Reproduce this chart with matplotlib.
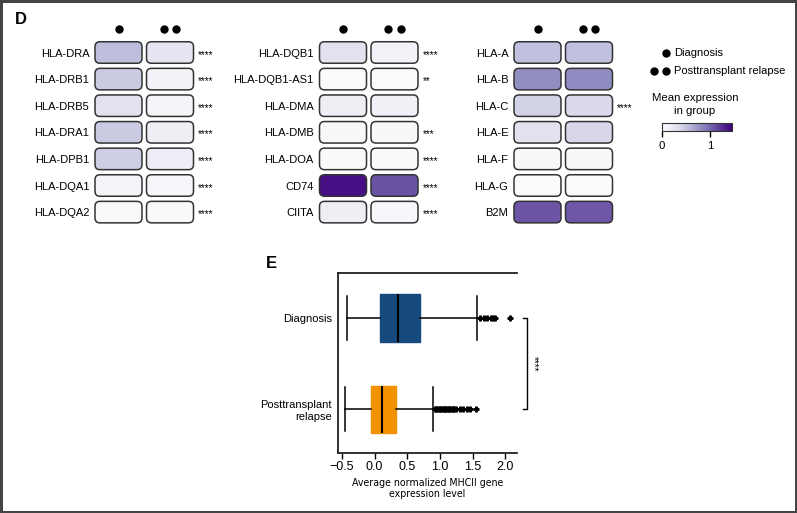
import matplotlib
matplotlib.use("Agg")
import matplotlib.pyplot as plt
import numpy as np
from matplotlib.patches import FancyBboxPatch
from matplotlib.colors import Normalize
from matplotlib.cm import ScalarMappable
from matplotlib import font_manager

plt.rcParams['font.family'] = ['Liberation Sans', 'DejaVu Sans']

# ---------------- data ----------------
groups = ["Diagnosis", "Posttransplant relapse"]

genes_p1 = ["HLA-DRA", "HLA-DRB1", "HLA-DRB5", "HLA-DRA1", "HLA-DPB1", "HLA-DQA1", "HLA-DQA2"]
diag_p1 = [0.54, 0.46, 0.29, 0.46, 0.44, 0.10, 0.04]
rel_p1 = [0.26, 0.12, 0.10, 0.17, 0.19, 0.07, 0.04]
sig_p1 = ["****", "****", "****", "****", "****", "****", "****"]

genes_p2 = ["HLA-DQB1", "HLA-DQB1-AS1", "HLA-DMA", "HLA-DMB", "HLA-DOA", "CD74", "CIITA"]
diag_p2 = [0.29, 0.02, 0.17, 0.06, 0.04, 1.38, 0.17]
rel_p2 = [0.12, 0.02, 0.15, 0.06, 0.03, 1.08, 0.07]
sig_p2 = ["****", "**", "", "***", "****", "****", "****"]

genes_p3 = ["HLA-A", "HLA-B", "HLA-C", "HLA-E", "HLA-F", "HLA-G", "B2M"]
diag_p3 = [0.52, 0.80, 0.41, 0.29, 0.06, 0.02, 1.07]
rel_p3 = [0.52, 0.81, 0.36, 0.38, 0.06, 0.02, 1.06]
sig_p3 = ["", "", "****", "", "", "", ""]

cbar_ticks = [0, 1]
vmax = 1.45

# boxplot summary
box_labels = ["Diagnosis", "Posttransplant\nrelapse"]
whislo = [-0.42, -0.45]
q1 = [0.09, -0.05]
med = [0.36, 0.12]
q3 = [0.70, 0.33]
whishi = [1.57, 0.90]
fliers_diag = [1.62, 1.67, 1.72, 1.78, 1.81, 1.84, 2.07]
fliers_rel = [0.92, 0.94, 0.96, 0.98, 1.00, 1.02, 1.04, 1.06, 1.08, 1.10, 1.12,
              1.14, 1.16, 1.18, 1.20, 1.22, 1.25, 1.31, 1.36, 1.41, 1.46, 1.55]
xticks_box = [-0.5, 0.0, 0.5, 1.0, 1.5, 2.0]
box_colors = ["#174a7c", "#f39200"]

# pick a condensed font for the x label if one is installed
_names = {(f.name, f.stretch) for f in font_manager.fontManager.ttflist}
_fam = {n for n, s in _names}
if "Liberation Sans Narrow" in _fam:
    narrow = dict(family=["Liberation Sans Narrow", "DejaVu Sans"], fontsize=8.6)
elif ("DejaVu Sans", "condensed") in _names or ("DejaVu Sans", "semi-condensed") in _names:
    narrow = dict(family=["DejaVu Sans"], stretch="condensed", fontsize=7.6)
else:
    narrow = dict(family=["Liberation Sans", "DejaVu Sans"], fontsize=7.5)

# ---------------- figure ----------------
W, H = 797, 513
fig = plt.figure(figsize=(W / 100, H / 100), dpi=100)
fig.patch.set_edgecolor("#444444")
fig.patch.set_linewidth(2.5)

def px_axes(x0, y0, x1, y1):
    return fig.add_axes([x0 / W, 1 - y1 / H, (x1 - x0) / W, (y1 - y0) / H])

cmap = plt.get_cmap("Purples")
norm = Normalize(0, vmax)

colpitch = 51.5
rowpitch = 26.6
row0 = 52.5
cell_w = 47 / colpitch
cell_h = 21.5 / rowpitch
rad = 5 / colpitch
panels = [
    (118.5, genes_p1, diag_p1, rel_p1, sig_p1),
    (343.0, genes_p2, diag_p2, rel_p2, sig_p2),
    (537.5, genes_p3, diag_p3, rel_p3, sig_p3),
]
for cx, genes, d, r, sig in panels:
    ax = px_axes(cx - colpitch / 2, row0 - rowpitch / 2,
                 cx + colpitch * 1.5, row0 + rowpitch * 6.5)
    ax.set_xlim(-0.5, 1.5)
    ax.set_ylim(6.5, -0.5)
    vals = np.array([d, r]).T
    for i in range(len(genes)):
        for j in range(2):
            p = FancyBboxPatch((j - cell_w / 2, i - cell_h / 2), cell_w, cell_h,
                               boxstyle=f"round,pad=0,rounding_size={rad}",
                               mutation_aspect=colpitch / rowpitch,
                               facecolor=cmap(norm(vals[i, j])),
                               edgecolor="#333333", linewidth=1.1)
            ax.add_patch(p)
        if sig[i]:
            ax.text(1.55, i + 0.08, sig[i], ha="left", va="center", fontsize=7.2)
    ax.set_yticks(range(len(genes)), genes, fontsize=8)
    ax.tick_params(axis="y", length=0, pad=2.5)
    ax.set_xticks([])
    for s in ax.spines.values():
        s.set_visible(False)
    # group dots
    yd = -0.88
    ax.plot([0], [yd], "o", color="black", ms=5, clip_on=False)
    ax.plot([1 - 0.117, 1 + 0.117], [yd, yd], "o", color="black", ms=5, clip_on=False)

# overlay axes in pixel coords for legend + panel letters
ov = fig.add_axes([0, 0, 1, 1])
ov.set_xlim(0, W)
ov.set_ylim(H, 0)
ov.axis("off")
ov.text(15, 19, "D", fontsize=12, fontweight="bold", va="center", ha="left")
ov.text(266, 264, "E", fontsize=12, fontweight="bold", va="center", ha="left")
ov.plot([666], [53], "o", color="black", ms=5)
ov.plot([654.5, 666], [71, 71], "o", color="black", ms=5)
ov.text(674, 53, groups[0], fontsize=8, va="center", ha="left")
ov.text(674, 71, groups[1], fontsize=8, va="center", ha="left")
ov.text(695, 98, "Mean expression", fontsize=8.2, va="center", ha="center")
ov.text(695, 111.5, "in group", fontsize=8.2, va="center", ha="center")

cax = px_axes(662, 123, 732, 131)
cb = fig.colorbar(ScalarMappable(norm=norm, cmap=cmap), cax=cax,
                  orientation="horizontal", ticks=cbar_ticks)
cb.outline.set_linewidth(0.8)
cb.outline.set_edgecolor("#333333")
cax.tick_params(length=4, width=1, labelsize=8.2, pad=3)

# ---------------- boxplot ----------------
bx = px_axes(338, 273, 517, 453)
stats = []
fl = [fliers_diag, fliers_rel]
for k in range(2):
    stats.append(dict(whislo=whislo[k], q1=q1[k], med=med[k], q3=q3[k],
                      whishi=whishi[k], fliers=fl[k], label=box_labels[k]))
bp = bx.bxp(stats, positions=[0, 1], widths=0.52, vert=False, patch_artist=True,
            capwidths=0.48,
            medianprops=dict(color="black", linewidth=1.5),
            whiskerprops=dict(color="black", linewidth=1.1),
            capprops=dict(color="black", linewidth=1.1),
            flierprops=dict(marker="P", markersize=3.5, markerfacecolor="black",
                            markeredgecolor="black", linestyle="none"))
for patch, c in zip(bp["boxes"], box_colors):
    patch.set_facecolor(c)
    patch.set_edgecolor(c)
bx.set_xlim(-0.56, 2.18)
bx.set_ylim(1.48, -0.495)
bx.set_xticks(xticks_box, [f"{v:.1f}".replace("-", "\u2212") for v in xticks_box])
bx.tick_params(axis="x", length=4, width=1, labelsize=9, pad=2)
bx.tick_params(axis="y", length=0, labelsize=8, pad=4.5)
bx.spines["right"].set_visible(False)
for s in ["top", "left", "bottom"]:
    bx.spines[s].set_linewidth(1.3)
    bx.spines[s].set_color("#222222")
bx.set_xlabel("Average normalized MHCII gene\nexpression level",
              linespacing=1.15, labelpad=3, **narrow)
# significance bracket
bx.plot([2.27, 2.34, 2.34, 2.27], [0, 0, 1, 1], color="black", lw=1.0, clip_on=False)
bx.text(2.43, 0.5, "****", rotation=-90, ha="center", va="center", fontsize=7)

fig.savefig("out.png", dpi=100)
